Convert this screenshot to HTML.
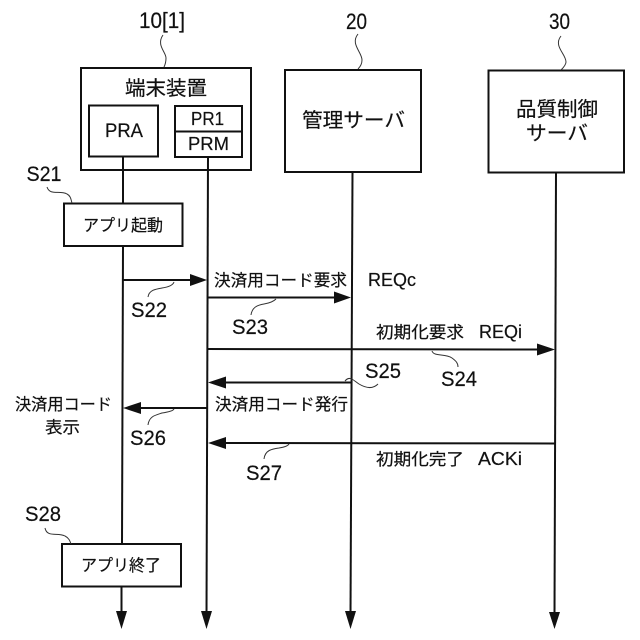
<!DOCTYPE html>
<html>
<head>
<meta charset="utf-8">
<style>
html,body{margin:0;padding:0;background:#fff}
svg{display:block}
text{font-family:"Liberation Sans","Noto Sans CJK JP",sans-serif;fill:#111;stroke:#111;stroke-width:.2px}
.j{font-size:16.500px}
.s{font-size:21px}
.n{font-size:22px}
.l{font-size:18px}
</style>
</head>
<body>
<svg width="640" height="640" viewBox="0 0 640 640" xmlns="http://www.w3.org/2000/svg">
<g fill="none" stroke="#111" stroke-width="2">
<rect x="81" y="68" width="170" height="102"/>
<rect x="89" y="105.500" width="69" height="51"/>
<rect x="175" y="106" width="67" height="51"/>
<line x1="175" y1="131.500" x2="242" y2="131.500"/>
<rect x="285" y="70" width="136" height="102"/>
<rect x="488.500" y="70.500" width="135.500" height="102"/>
<rect x="64" y="203.500" width="118.500" height="42.500"/>
<rect x="62" y="544" width="119" height="42.500"/>
<line x1="123" y1="157" x2="123" y2="203"/>
<line x1="123" y1="246" x2="122" y2="544"/>
<line x1="121.500" y1="586" x2="121.500" y2="615"/>
<line x1="208" y1="157" x2="206.500" y2="615"/>
<line x1="352.500" y1="172" x2="350.500" y2="615"/>
<line x1="556" y1="172" x2="554.500" y2="615"/>
<line x1="123" y1="280" x2="192" y2="280"/>
<line x1="208" y1="297.500" x2="336" y2="297.500"/>
<line x1="207" y1="349" x2="539" y2="349.500"/>
<line x1="224" y1="382.500" x2="352" y2="382.500"/>
<line x1="139" y1="408" x2="207" y2="408"/>
<line x1="224" y1="443" x2="555" y2="443.500"/>
</g>
<g fill="#111">
<polygon points="190,274 207,280 190,286"/>
<polygon points="334,291.500 351,297.500 334,303.500"/>
<polygon points="537,343.500 555,349.500 537,355.500"/>
<polygon points="226,376.500 208,382.500 226,388.500"/>
<polygon points="141,402 123,408 141,414"/>
<polygon points="226,437 208,443 226,449"/>
<polygon points="116,611 127,611 121.500,629"/>
<polygon points="201,611 212,611 206.500,629"/>
<polygon points="345,611 356,611 350.500,629"/>
<polygon points="549,612 560,612 554.500,629"/>
</g>
<g fill="none" stroke="#333" stroke-width="1">
<path d="M163,35 C156,45 166,52 166,58 C166,62 165,65 164,67"/>
<path d="M358,34 C350,44 362,52 362,60 C362,64 360,67 358,69"/>
<path d="M561,36 C553,46 566,54 566,62 C566,65 563,68 561,70"/>
<path d="M47,187 C50,196 60,190 67,194 C71,196 71,200 72,203"/>
<path d="M45,528 C47,538 58,532 65,536 C69,538 70,541 71,544"/>
<path d="M148,297 C149,290 156,289 162,288 C169,287 173,285 174,282"/>
<path d="M251,315 C252,307 258,305 264,304 C270,303 274,301 276,299"/>
<path d="M432,351 C434,357 445,353 452,358 C456,361 458,363 458,367"/>
<path d="M345,381 C350,375 354,381 359,384 C364,387 372,390 378,384"/>
<path d="M148,425 C149,416 156,415 162,413 C169,412 173,411 174,409"/>
<path d="M264,459 C265,450 272,449 279,448 C285,447 288,446 289,444"/>
</g>
<text class="n" x="139" y="28" textLength="46" lengthAdjust="spacingAndGlyphs">10[1]</text>
<text class="n" x="346" y="29" textLength="21" lengthAdjust="spacingAndGlyphs">20</text>
<text class="n" x="549" y="29" textLength="21" lengthAdjust="spacingAndGlyphs">30</text>
<text x="125" y="95" textLength="82" style="font-size:20px" lengthAdjust="spacingAndGlyphs">端末装置</text>
<text x="105" y="137" style="font-size:19px" textLength="38" lengthAdjust="spacingAndGlyphs">PRA</text>
<text class="l" x="191" y="125" textLength="33" lengthAdjust="spacingAndGlyphs">PR1</text>
<text class="l" x="188" y="150" textLength="41" lengthAdjust="spacingAndGlyphs">PRM</text>
<text x="302" y="127" style="font-size:20px" textLength="103" lengthAdjust="spacingAndGlyphs">管理サーバ</text>
<text x="516" y="116" style="font-size:20px" textLength="82" lengthAdjust="spacingAndGlyphs">品質制御</text>
<text x="526" y="140" style="font-size:20px" textLength="62" lengthAdjust="spacingAndGlyphs">サーバ</text>
<text class="j" x="83" y="231" textLength="80" lengthAdjust="spacingAndGlyphs">アプリ起動</text>
<text class="j" x="81" y="571" textLength="80" lengthAdjust="spacingAndGlyphs">アプリ終了</text>
<text class="s" x="26.500" y="181" textLength="35" lengthAdjust="spacingAndGlyphs">S21</text>
<text class="s" x="131" y="317" textLength="36" lengthAdjust="spacingAndGlyphs">S22</text>
<text class="s" x="232" y="334" textLength="36" lengthAdjust="spacingAndGlyphs">S23</text>
<text class="s" x="441" y="386" textLength="36" lengthAdjust="spacingAndGlyphs">S24</text>
<text class="s" x="365" y="378" textLength="36" lengthAdjust="spacingAndGlyphs">S25</text>
<text class="s" x="130" y="445" textLength="36" lengthAdjust="spacingAndGlyphs">S26</text>
<text class="s" x="246" y="480" textLength="36" lengthAdjust="spacingAndGlyphs">S27</text>
<text class="s" x="25" y="521" textLength="36" lengthAdjust="spacingAndGlyphs">S28</text>
<text class="j" x="214" y="286" textLength="133" lengthAdjust="spacingAndGlyphs">決済用コード要求</text>
<text class="l" x="368" y="286" textLength="48" lengthAdjust="spacingAndGlyphs">REQc</text>
<text class="j" x="376" y="338" textLength="88" lengthAdjust="spacingAndGlyphs">初期化要求</text>
<text class="l" x="479" y="338" textLength="43" lengthAdjust="spacingAndGlyphs">REQi</text>
<text class="j" x="215" y="410" textLength="133" lengthAdjust="spacingAndGlyphs">決済用コード発行</text>
<text class="j" x="15" y="410" textLength="97" lengthAdjust="spacingAndGlyphs">決済用コード</text>
<text class="j" x="45" y="433" textLength="35" lengthAdjust="spacingAndGlyphs">表示</text>
<text class="j" x="376" y="465" textLength="88" lengthAdjust="spacingAndGlyphs">初期化完了</text>
<text class="l" x="478" y="465" textLength="44" lengthAdjust="spacingAndGlyphs">ACKi</text>
</svg>
</body>
</html>
